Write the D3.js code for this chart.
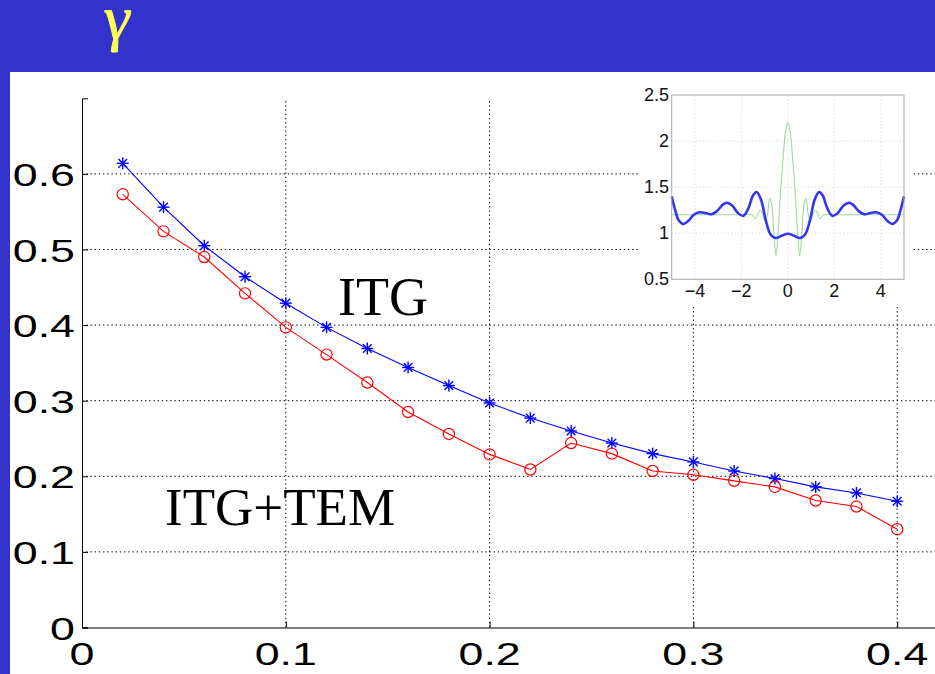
<!DOCTYPE html>
<html>
<head>
<meta charset="utf-8">
<script src="https://cdn.jsdelivr.net/npm/d3@7"></script>
<style>
  html, body { margin: 0; padding: 0; background: #ffffff; }
  svg { display: block; }
</style>
</head>
<body>
<svg id="chart" width="935" height="674"></svg>
<script>
// Growth rate vs wavenumber: ITG alone and ITG with trapped electrons
const kValues  = [0.02, 0.04, 0.06, 0.08, 0.10, 0.12, 0.14, 0.16, 0.18, 0.20,
                  0.22, 0.24, 0.26, 0.28, 0.30, 0.32, 0.34, 0.36, 0.38, 0.40];
const gammaITG = [0.614, 0.556, 0.505, 0.464, 0.429, 0.397, 0.369, 0.344, 0.320, 0.297,
                  0.277, 0.260, 0.244, 0.230, 0.219, 0.207, 0.197, 0.186, 0.178, 0.167];
const gammaTEM = [0.573, 0.524, 0.490, 0.442, 0.397, 0.361, 0.324, 0.285, 0.256, 0.229,
                  0.209, 0.244, 0.230, 0.207, 0.202, 0.194, 0.186, 0.168, 0.160, 0.130];

const xTicks = [0, 0.1, 0.2, 0.3, 0.4];
const yTicks = [0, 0.1, 0.2, 0.3, 0.4, 0.5, 0.6];

// Inset: mode structure along the field line
const insetX     = [-5, -4.85, -4.7, -4.5, -4.3, -4.05, -3.8, -3.55, -3.3, -3.05, -2.8, -2.63, -2.4, -2.15,
                    -1.92, -1.7, -1.5, -1.34, -1.15, -0.95, -0.75, -0.52, -0.25, 0,
                    0.25, 0.52, 0.75, 0.95, 1.15, 1.34, 1.5, 1.7, 1.92, 2.15, 2.4, 2.63,
                    2.8, 3.05, 3.3, 3.55, 3.8, 4.05, 4.3, 4.5, 4.7, 4.85, 5];
const insetBlue  = [1.40, 1.25, 1.14, 1.10, 1.13, 1.20, 1.227, 1.22, 1.205, 1.24, 1.31, 1.33, 1.30, 1.22,
                    1.187, 1.27, 1.41, 1.447, 1.36, 1.14, 0.99, 0.948, 0.975, 0.995,
                    0.975, 0.948, 0.99, 1.14, 1.36, 1.447, 1.41, 1.27, 1.187, 1.22, 1.30, 1.33,
                    1.31, 1.24, 1.205, 1.22, 1.227, 1.20, 1.13, 1.10, 1.14, 1.25, 1.40];
const insetGX    = [-5, -4, -3, -2, -1.55, -1.4, -1.3, -1.2, -1.1, -0.98, -0.88, -0.78, -0.7, -0.6,
                    -0.51, -0.42, -0.31, -0.2, -0.1, 0, 0.1, 0.2, 0.31, 0.42, 0.51,
                    0.6, 0.7, 0.78, 0.88, 0.98, 1.1, 1.2, 1.3, 1.4, 1.55, 2, 3, 4, 5];
const insetGreen = [1.2, 1.2, 1.2, 1.2, 1.2, 1.16, 1.2, 1.25, 1.22, 1.13, 1.2, 1.38, 1.32, 1.0,
                    0.756, 1.0, 1.47, 1.83, 2.1, 2.2, 2.1, 1.83, 1.47, 1.0, 0.756,
                    1.0, 1.32, 1.38, 1.2, 1.13, 1.22, 1.25, 1.2, 1.16, 1.2, 1.2, 1.2, 1.2, 1.2];
const insetXTicks = [-4, -2, 0, 2, 4];
const insetYTicks = [0.5, 1, 1.5, 2, 2.5];

const svg = d3.select("#chart");
const W = 935, H = 674;

// slide frame: blue band on top and a strip on the left
svg.append("rect").attr("x", 0).attr("y", 0).attr("width", W).attr("height", 72).attr("fill", "#3333cc");
svg.append("rect").attr("x", 0).attr("y", 0).attr("width", 10).attr("height", H).attr("fill", "#3333cc");
svg.append("text")
  .attr("transform", "translate(102,39) skewX(-6)")
  .attr("font-family", "'Liberation Serif', 'DejaVu Serif', serif")
  .attr("font-size", 62)
  .attr("fill", "#ffff55")
  .attr("stroke", "#ffff55").attr("stroke-width", 0.8)
  .text("γ");

// main axes
const x = d3.scaleLinear().domain([0, 0.42]).range([82, 82 + 0.42 * 2038]);
const y = d3.scaleLinear().domain([0, 0.7]).range([627.5, 627.5 - 0.7 * 756]);

const grid = svg.append("g");
const dash = "1.4,2.8";
grid.selectAll("line.gx").data(xTicks.filter(d => d > 0)).join("line")
  .attr("x1", d => x(d)).attr("x2", d => x(d))
  .attr("y1", y(0)).attr("y2", y(0.7))
  .attr("stroke", "#000").attr("stroke-width", 1).attr("stroke-dasharray", dash);
grid.selectAll("line.gy").data(yTicks.filter(d => d > 0)).join("line")
  .attr("x1", x(0)).attr("x2", W)
  .attr("y1", d => y(d)).attr("y2", d => y(d))
  .attr("stroke", "#000").attr("stroke-width", 1).attr("stroke-dasharray", dash);

// axes lines with inward ticks
const xAxis = d3.axisBottom(x).tickValues(xTicks).tickSize(-6).tickFormat("");
const yAxis = d3.axisLeft(y).tickValues(yTicks).tickSize(-6).tickFormat("");
const gx = svg.append("g").attr("transform", `translate(0,${y(0)})`).call(xAxis);
const gy = svg.append("g").attr("transform", `translate(${x(0)},0)`).call(yAxis);
[gx, gy].forEach(g => {
  g.select(".domain").attr("stroke", "#000").attr("stroke-width", 1);
  g.selectAll(".tick line").attr("stroke", "#000");
});

// tick labels (wide sans)
const labelFont = "'Liberation Sans', Arial, sans-serif";
const fmt = d => d === 0 ? "0" : d3.format(".1f")(d);
svg.append("g").selectAll("text").data(xTicks).join("text")
  .attr("transform", d => `translate(${x(d)},665) scale(1.4,1)`)
  .attr("text-anchor", "middle")
  .attr("font-family", labelFont).attr("font-size", 32).attr("fill", "#000")
  .text(fmt);
svg.append("g").selectAll("text").data(yTicks).join("text")
  .attr("transform", d => `translate(75,${y(d) + 12}) scale(1.4,1)`)
  .attr("text-anchor", "end")
  .attr("font-family", labelFont).attr("font-size", 32).attr("fill", "#000")
  .text(fmt);

// series
const pts = vals => kValues.map((k, i) => [k, vals[i]]);
const line = d3.line().x(d => x(d[0])).y(d => y(d[1]));

svg.append("path").datum(pts(gammaITG)).attr("d", line)
  .attr("fill", "none").attr("stroke", "#0000ff").attr("stroke-width", 1.1);
svg.append("path").datum(pts(gammaTEM)).attr("d", line)
  .attr("fill", "none").attr("stroke", "#ff0000").attr("stroke-width", 1.1);

// asterisk markers
const star = svg.append("g").attr("stroke", "#0000ff").attr("stroke-width", 1.4);
pts(gammaITG).forEach(d => {
  const cx = x(d[0]), cy = y(d[1]), r = 6, q = r * 0.72;
  const g = star.append("g");
  g.append("line").attr("x1", cx - r).attr("x2", cx + r).attr("y1", cy).attr("y2", cy);
  g.append("line").attr("x1", cx).attr("x2", cx).attr("y1", cy - r).attr("y2", cy + r);
  g.append("line").attr("x1", cx - q).attr("x2", cx + q).attr("y1", cy - q).attr("y2", cy + q);
  g.append("line").attr("x1", cx - q).attr("x2", cx + q).attr("y1", cy + q).attr("y2", cy - q);
});
// circle markers
svg.append("g").selectAll("circle").data(pts(gammaTEM)).join("circle")
  .attr("cx", d => x(d[0])).attr("cy", d => y(d[1])).attr("r", 5.6)
  .attr("fill", "none").attr("stroke", "#ff0000").attr("stroke-width", 1.2);

// annotations
const serif = "'Liberation Serif', 'Times New Roman', serif";
svg.append("text").attr("x", 338).attr("y", 315)
  .attr("font-family", serif).attr("font-size", 54).attr("fill", "#000").text("ITG");
svg.append("text").attr("x", 165).attr("y", 525)
  .attr("font-family", serif).attr("font-size", 53).attr("fill", "#000").text("ITG+TEM");

// inset panel
const inset = svg.append("g");
inset.append("rect").attr("x", 640).attr("y", 80).attr("width", 272).attr("height", 224).attr("fill", "#fff");
const ix = d3.scaleLinear().domain([-5, 5]).range([671.7, 904]);
const iy = d3.scaleLinear().domain([0.5, 2.5]).range([279.3, 95]);

inset.selectAll("line.igx").data(insetXTicks).join("line")
  .attr("x1", d => ix(d)).attr("x2", d => ix(d)).attr("y1", iy(0.5)).attr("y2", iy(2.5))
  .attr("stroke", "#c4c4c4").attr("stroke-width", 0.8).attr("stroke-dasharray", "1,2.5");
inset.selectAll("line.igy").data(insetYTicks.slice(1, -1)).join("line")
  .attr("x1", ix(-5)).attr("x2", ix(5)).attr("y1", d => iy(d)).attr("y2", d => iy(d))
  .attr("stroke", "#c4c4c4").attr("stroke-width", 0.8).attr("stroke-dasharray", "1,2.5");

const iline = d3.line().x(d => ix(d[0])).y(d => iy(d[1])).curve(d3.curveCatmullRom.alpha(0.5));
inset.append("path").datum(insetGX.map((v, i) => [v, insetGreen[i]])).attr("d", iline)
  .attr("fill", "none").attr("stroke", "#9cd99c").attr("stroke-width", 1.1);
inset.append("path").datum(insetX.map((v, i) => [v, insetBlue[i]])).attr("d", iline)
  .attr("fill", "none").attr("stroke", "#3535ee").attr("stroke-width", 2.6);

inset.append("rect").attr("x", ix(-5)).attr("y", iy(2.5))
  .attr("width", ix(5) - ix(-5)).attr("height", iy(0.5) - iy(2.5))
  .attr("fill", "none").attr("stroke", "#a8a8a8").attr("stroke-width", 1);

inset.selectAll("text.ixl").data(insetXTicks).join("text")
  .attr("x", d => ix(d)).attr("y", 297)
  .attr("text-anchor", "middle").attr("font-family", labelFont).attr("font-size", 18).attr("fill", "#111")
  .text(d => d < 0 ? "\u2212" + Math.abs(d) : String(d));
inset.selectAll("text.iyl").data(insetYTicks).join("text")
  .attr("x", 669).attr("y", d => iy(d) + 6)
  .attr("text-anchor", "end").attr("font-family", labelFont).attr("font-size", 18).attr("fill", "#111")
  .text(d => String(d));
</script>
</body>
</html>
